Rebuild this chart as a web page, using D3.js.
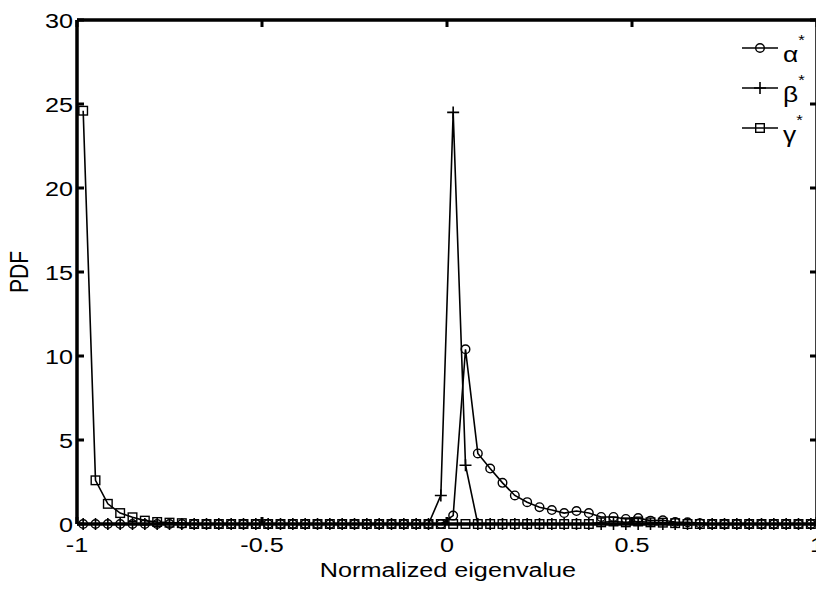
<!DOCTYPE html>
<html>
<head>
<script src="https://d3js.org/d3.v7.min.js"></script>
<style>
body { margin: 0; background: #fff; }
svg { display: block; font-family: "Liberation Sans", Arial, sans-serif; }
</style>
</head>
<body>
<div id="root"></div>
<script>
// 60 histogram bins over [-1, 1]
let bin_count = 60;
let bin_centers = d3.range(bin_count).map(i => -1 + (i + 0.5) * 2 / bin_count);

let alpha_pdf = [
    0, 0, 0, 0, 0, 0, 0, 0, 0, 0,
    0, 0, 0, 0, 0, 0, 0, 0, 0, 0,
    0, 0, 0, 0, 0, 0, 0, 0, 0, 0,
    0.5, 10.4, 4.2, 3.3, 2.45, 1.7, 1.3, 1.0, 0.83, 0.65,
    0.77, 0.65, 0.42, 0.42, 0.3, 0.35, 0.2, 0.22, 0.12, 0.1,
    0.05, 0, 0, 0, 0, 0, 0, 0, 0, 0
];
let beta_pdf = [
    0, 0, 0, 0, 0, 0, 0, 0, 0, 0,
    0, 0, 0, 0, 0, 0, 0, 0, 0, 0,
    0, 0, 0, 0, 0, 0, 0, 0, 0, 1.7,
    24.5, 3.5, 0, 0, 0, 0, 0, 0, 0, 0,
    0, 0, 0, 0, 0, 0, 0, 0, 0, 0,
    0, 0, 0, 0, 0, 0, 0, 0, 0, 0
];
let gamma_pdf = [
    24.6, 2.6, 1.2, 0.65, 0.4, 0.2, 0.12, 0.08, 0.05, 0,
    0, 0, 0, 0, 0, 0, 0, 0, 0, 0,
    0, 0, 0, 0, 0, 0, 0, 0, 0, 0,
    0, 0, 0, 0, 0, 0, 0, 0, 0, 0,
    0, 0, 0.1, 0.15, 0.1, 0.15, 0.1, 0.08, 0.05, 0,
    0, 0, 0, 0, 0, 0, 0, 0, 0, 0
];
let x_ticks = [-1, -0.5, 0, 0.5, 1];
let y_ticks = [0, 5, 10, 15, 20, 25, 30];
let legend_names = ['α', 'β', 'γ'];

let width = 816, height = 589;
let plot_left = 77, plot_right = 817, plot_top = 20, plot_bottom = 524;
let stretch = 1.2; // the figure's text is drawn horizontally stretched

let scale_x = d3.scaleLinear().domain([-1, 1]).range([plot_left, plot_right]);
let scale_y = d3.scaleLinear().domain([0, 30]).range([plot_bottom, plot_top]);

let svg = d3.select('#root').append('svg')
    .attr('width', width)
    .attr('height', height);

let series = [
    { name: legend_names[0], values: alpha_pdf, marker: 'circle' },
    { name: legend_names[1], values: beta_pdf, marker: 'plus' },
    { name: legend_names[2], values: gamma_pdf, marker: 'square' }
];

let draw_marker = (g, type, x, y) => {
    if (type === 'circle') {
        g.append('circle').attr('cx', x).attr('cy', y).attr('r', 4.3)
            .attr('fill', 'none').attr('stroke', '#000').attr('stroke-width', 1.4);
    } else if (type === 'plus') {
        g.append('path').attr('d', `M${x - 6},${y}H${x + 6}M${x},${y - 6}V${y + 6}`)
            .attr('stroke', '#000').attr('stroke-width', 1.6);
    } else {
        g.append('rect').attr('x', x - 4.3).attr('y', y - 4.3).attr('width', 8.6).attr('height', 8.6)
            .attr('fill', 'none').attr('stroke', '#000').attr('stroke-width', 1.4);
    }
};

let add_text = (x, y, str, anchor, size) => svg.append('text')
    .attr('transform', `translate(${x},${y}) scale(${stretch},1)`)
    .attr('text-anchor', anchor)
    .attr('font-size', size)
    .text(str);

let line = d3.line().x((d, i) => scale_x(bin_centers[i])).y(d => scale_y(d));

series.forEach(s => {
    let g = svg.append('g');
    g.append('path').datum(s.values)
        .attr('d', line)
        .attr('fill', 'none')
        .attr('stroke', '#000')
        .attr('stroke-width', 1.6);
    s.values.forEach((v, i) => draw_marker(g, s.marker, scale_x(bin_centers[i]), scale_y(v)));
});

// axes box with inward ticks
let axes = svg.append('g').attr('stroke', '#000').attr('fill', 'none');
axes.append('path')
    .attr('d', `M${plot_left},${plot_top}H${plot_right}M${plot_left},${plot_top}V${plot_bottom}M${plot_left},${plot_bottom}H${plot_right}M${plot_right},${plot_top}V${plot_bottom}`)
    .attr('stroke-width', 3.5);

x_ticks.forEach(t => {
    let x = scale_x(t);
    axes.append('path').attr('d', `M${x},${plot_bottom}V${plot_bottom - 7}M${x},${plot_top}V${plot_top + 7}`).attr('stroke-width', 3);
    add_text(x, 552, t, 'middle', 21);
});
y_ticks.forEach(t => {
    let y = scale_y(t);
    axes.append('path').attr('d', `M${plot_left},${y}H${plot_left + 7}M${plot_right},${y}H${plot_right - 7}`).attr('stroke-width', 3);
    add_text(73, y + 8, t, 'end', 21);
});

add_text(448, 577, 'Normalized eigenvalue', 'middle', 21);
svg.append('text')
    .attr('transform', `translate(28,272) rotate(-90) scale(1,${stretch})`)
    .attr('text-anchor', 'middle')
    .attr('font-size', 21)
    .text('PDF');

// legend
series.forEach((s, i) => {
    let y = 48 + i * 40;
    let g = svg.append('g');
    g.append('path').attr('d', `M742,${y}H778`).attr('stroke', '#000').attr('stroke-width', 1.6);
    draw_marker(g, s.marker, 760, y);
    let t = g.append('text')
        .attr('transform', `translate(783,${y + 14}) scale(${stretch},1)`)
        .attr('font-size', 22);
    t.append('tspan').text(s.name);
    t.append('tspan').attr('dy', -17).attr('font-size', 14).text('*');
});
</script>
</body>
</html>
